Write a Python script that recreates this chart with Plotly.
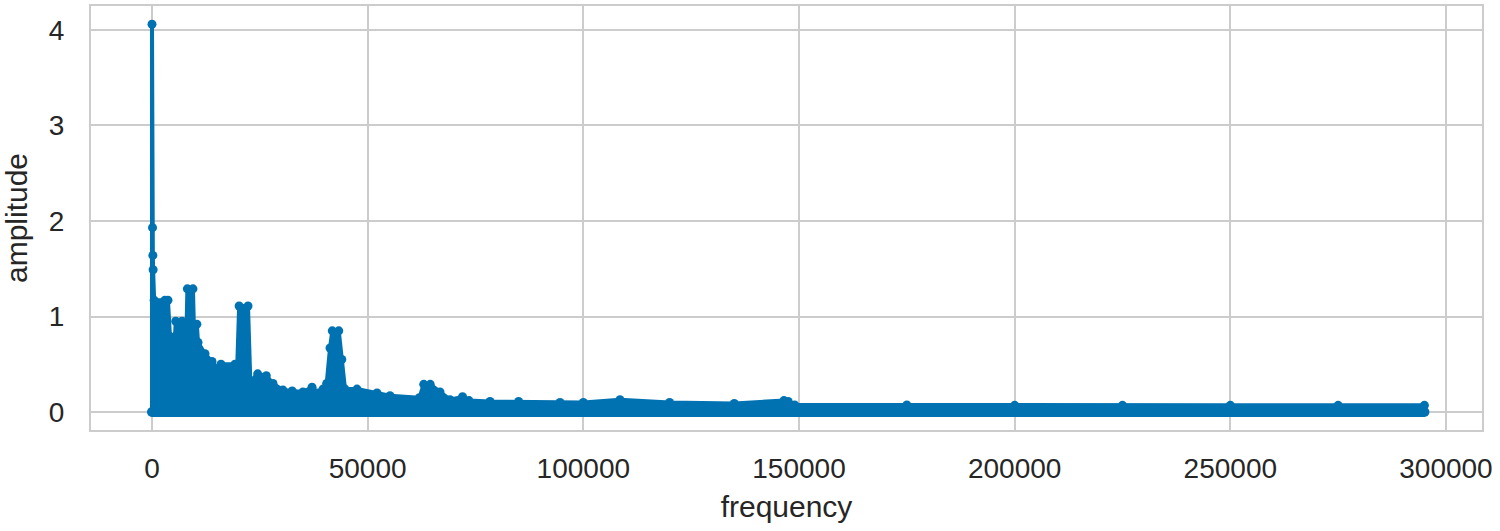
import plotly.graph_objects as go

# Upper envelope of the spectrum
freq = [0, 0, 120, 200, 260, 500, 3000, 3700, 4170, 5330, 5500, 6960, 7300, 8000,
        8200, 9500, 9700, 10400, 10670, 12290, 13910, 15300, 16000, 19240, 19700,
        20200, 22260, 22800, 24500, 26500, 28050, 30370, 32500, 35000, 37100, 38500,
        39650, 40500, 41270, 41800, 43300, 44000, 44750, 47530, 52170, 55180, 62000,
        63000, 64500, 66770, 69090, 72000, 73500, 78370, 85000, 94600, 100000, 108500,
        120000, 135000, 146500, 147500, 149000, 175000, 200000, 225000, 250000,
        275000, 295000]
amp = [0, 4.06, 1.93, 1.64, 1.49, 1.17, 1.17, 1.17, 0.79, 0.79, 0.95, 0.95, 0.85, 0.85,
       1.29, 1.29, 0.92, 0.92, 0.73, 0.61, 0.53, 0.45, 0.50, 0.50, 0.40,
       1.11, 1.11, 0.32, 0.40, 0.38, 0.30, 0.23, 0.22, 0.21, 0.26, 0.20,
       0.24, 0.30, 0.67, 0.85, 0.85, 0.55, 0.24, 0.24, 0.20, 0.17, 0.15,
       0.29, 0.29, 0.21, 0.13, 0.16, 0.12, 0.11, 0.11, 0.10, 0.10, 0.13,
       0.10, 0.09, 0.12, 0.11, 0.075, 0.075, 0.07, 0.07, 0.07,
       0.07, 0.07]

# Lower edge of the spectrum band
floor_freq = [0, 295000]
floor_amp = [0.0, 0.0]

x_ticks = [0, 50000, 100000, 150000, 200000, 250000, 300000]
y_ticks = [0, 1, 2, 3, 4]

BLUE = "#0072B2"
GRID = "#cccccc"
TXT = "#262626"
FONT = "Liberation Sans, Arial, sans-serif"

fig = go.Figure()
fig.add_trace(go.Scatter(
    x=floor_freq, y=floor_amp, mode="lines+markers",
    line=dict(color=BLUE, width=10), marker=dict(color=BLUE, size=10),
    showlegend=False, hoverinfo="skip"))
fig.add_trace(go.Scatter(
    x=freq, y=amp, mode="lines+markers", fill="tozeroy", fillcolor=BLUE,
    line=dict(color=BLUE, width=4), marker=dict(color=BLUE, size=9),
    showlegend=False))

fig.update_layout(
    width=1500, height=531,
    margin=dict(l=91, r=18, t=6, b=101),
    paper_bgcolor="white", plot_bgcolor="white",
    font=dict(family=FONT, color=TXT, size=28),
    xaxis=dict(
        range=[-14142, 308350], tickvals=x_ticks, ticktext=[str(v) for v in x_ticks],
        showgrid=True, gridcolor=GRID, gridwidth=2, zeroline=False,
        showline=True, linecolor=GRID, linewidth=2, mirror=True,
        ticks="", ticklabelstandoff=12, automargin=False,
        title=dict(text="frequency", font=dict(size=30), standoff=13),
        tickfont=dict(size=28)),
    yaxis=dict(
        range=[-0.188, 4.251], tickvals=y_ticks, ticktext=[str(v) for v in y_ticks],
        showgrid=True, gridcolor=GRID, gridwidth=2, zeroline=False,
        showline=True, linecolor=GRID, linewidth=2, mirror=True,
        ticks="", ticklabelstandoff=19, automargin=False,
        title=dict(text="amplitude", font=dict(size=30), standoff=13),
        tickfont=dict(size=28)),
)

fig.write_html("out.html", config={"displayModeBar": False},
               post_script="document.body.style.margin='0px';")
